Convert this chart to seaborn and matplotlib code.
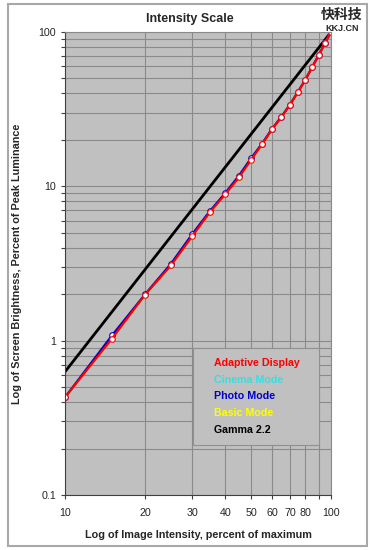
import matplotlib
matplotlib.use("Agg")
import matplotlib.pyplot as plt
import matplotlib.ticker as mticker
from matplotlib.patches import Rectangle
import pandas as pd
import seaborn as sns

# image intensity (percent of max)
intensity = [10, 15, 20, 25, 30, 35, 40, 45, 50, 55, 60, 65, 70, 75, 80, 85, 90, 95, 100]
# screen brightness (percent of peak) per mode
adaptive = [0.43, 1.03, 1.99, 3.07, 4.73, 6.78, 8.87, 11.4, 14.8, 18.7, 23.4, 28.0, 33.6, 40.7, 48.8, 59.3, 71.0, 84.9, 100]
cinema = [0.43, 1.05, 1.99, 3.10, 4.80, 6.85, 8.95, 11.6, 15.0, 18.8, 23.5, 28.1, 33.7, 40.8, 48.9, 59.5, 71.2, 85.0, 100]
photo = [0.43, 1.08, 2.00, 3.15, 4.88, 6.90, 9.05, 11.7, 15.2, 18.9, 23.6, 28.2, 33.8, 40.9, 49.0, 59.6, 71.3, 85.2, 100]
basic = [0.43, 1.04, 1.99, 3.08, 4.76, 6.80, 8.90, 11.5, 14.9, 18.7, 23.4, 28.0, 33.6, 40.7, 48.8, 59.3, 71.0, 84.9, 100]
gamma_x = [10, 100]
gamma_y = [0.63, 100]

series_names = ["Adaptive Display", "Cinema Mode", "Photo Mode", "Basic Mode", "Gamma 2.2"]
series_colors = ["#ff0000", "#33e0e0", "#0000cc", "#ffff00", "#000000"]

sns.set_style("ticks", {"axes.facecolor": "#c0c0c0"})
plt.rcParams["font.family"] = ["Liberation Sans", "DejaVu Sans"]

fig = plt.figure(figsize=(3.7, 5.5), dpi=100)
ax = fig.add_axes([0.176, 0.1, 0.719, 0.842])

rows = []
for name, vals in [("Basic Mode", basic), ("Cinema Mode", cinema), ("Photo Mode", photo), ("Adaptive Display", adaptive)]:
    for x, y in zip(intensity, vals):
        rows.append({"x": x, "y": y, "mode": name})
df = pd.DataFrame(rows)

sns.lineplot(data=pd.DataFrame({"x": gamma_x, "y": gamma_y}), x="x", y="y",
             color="black", linewidth=2, ax=ax)
sns.lineplot(data=df, x="x", y="y", hue="mode",
             hue_order=["Basic Mode", "Cinema Mode", "Photo Mode", "Adaptive Display"],
             palette={"Basic Mode": "#ffff00", "Cinema Mode": "#33e0e0",
                      "Photo Mode": "#0000cc", "Adaptive Display": "#ff0000"},
             marker="o", markersize=4, markerfacecolor="white", markeredgewidth=0.8,
             linewidth=1.6, legend=False, ax=ax)
for line in ax.lines[1:]:
    line.set_markeredgecolor(line.get_color())

ax.set_xscale("log")
ax.set_yscale("log")
ax.set_xlim(10, 100)
ax.set_ylim(0.1, 100)

ax.xaxis.set_major_locator(mticker.FixedLocator([10, 20, 30, 40, 50, 60, 70, 80, 90, 100]))
ax.xaxis.set_major_formatter(mticker.FixedFormatter(["10", "20", "30", "40", "50", "60", "70", "80", "", "100"]))
ax.xaxis.set_minor_locator(mticker.NullLocator())
ax.yaxis.set_major_locator(mticker.FixedLocator([0.1, 1, 10, 100]))
ax.yaxis.set_major_formatter(mticker.FixedFormatter(["0.1", "1", "10", "100"]))
ax.yaxis.set_minor_locator(mticker.LogLocator(base=10, subs=range(2, 10)))
ax.yaxis.set_minor_formatter(mticker.NullFormatter())

ax.grid(True, which="both", axis="y", color="#8a8a8a", linewidth=0.8)
ax.grid(True, which="major", axis="x", color="#8a8a8a", linewidth=0.8)
ax.tick_params(axis="both", which="both", labelsize=7.7, color="#404040", length=3, width=0.8)
ax.tick_params(axis="x", pad=6)
for side in ["left", "bottom"]:
    ax.spines[side].set_color("#404040")
for side in ["top", "right"]:
    ax.spines[side].set_visible(True)
    ax.spines[side].set_color("#8a8a8a")

ax.set_xlabel("Log of Image Intensity, percent of maximum", fontsize=7.8, fontweight="bold", labelpad=9)
ax.set_ylabel("Log of Screen Brightness, Percent of Peak Luminance", fontsize=7.8, fontweight="bold", labelpad=12)

handles = [plt.Line2D([], [], linestyle="none") for _ in series_names]
leg = ax.legend(handles, series_names, loc="upper left", bbox_to_anchor=(0.481, 0.3175, 0.474, 0.0),
                mode="expand", handlelength=0, handletextpad=1.0, borderpad=0.95, labelspacing=0.62,
                fancybox=False, framealpha=1, facecolor="#c0c0c0", edgecolor="#909090",
                prop={"size": 7.7, "weight": "bold"}, borderaxespad=0)
leg.get_frame().set_linewidth(0.8)
for txt, c in zip(leg.get_texts(), series_colors):
    txt.set_color(c)

fig.text(0.514, 0.965, "Intensity Scale", ha="center", va="center", fontsize=9, fontweight="bold")
fig.text(0.923, 0.973, "快科技", ha="center", va="center", fontsize=10, fontweight="bold",
         family=["Noto Sans CJK SC", "DejaVu Sans"])
fig.text(0.926, 0.949, "KKJ.CN", ha="center", va="center", fontsize=6.5, fontweight="bold")

fig.patches.append(Rectangle((8 / 370, 4 / 550), 359 / 370, 542 / 550, transform=fig.transFigure,
                             fill=False, edgecolor="#a8a8a8", linewidth=1.5))

fig.savefig("out.png", dpi=100)
